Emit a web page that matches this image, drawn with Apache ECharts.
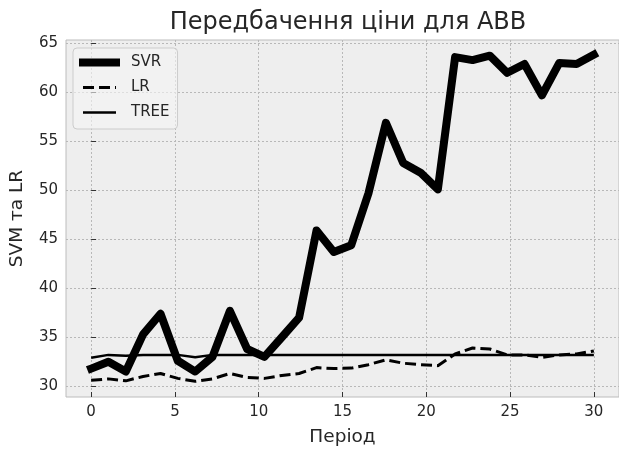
<!DOCTYPE html>
<html>
<head>
<meta charset="utf-8">
<script src="https://cdn.jsdelivr.net/npm/echarts@6/dist/echarts.min.js"></script>
<style>
  html, body { margin: 0; padding: 0; background: #ffffff; }
  #chart { width: 619px; height: 452px; }
</style>
</head>
<body>
<div id="chart"></div>
<script>
// period positions (30 points spread over 0..30)
var periods = [0, 1.03, 2.07, 3.10, 4.14, 5.17, 6.21, 7.24, 8.28, 9.31,
  10.34, 11.38, 12.41, 13.45, 14.48, 15.52, 16.55, 17.59, 18.62, 19.66,
  20.69, 21.72, 22.76, 23.79, 24.83, 25.86, 26.90, 27.93, 28.97, 30]

var svr = [31.8, 32.5, 31.5, 35.3, 37.4, 32.6, 31.5, 33.0, 37.7, 33.8,
  33.0, 35.0, 37.0, 45.9, 43.7, 44.4, 49.7, 56.9, 52.8, 51.8,
  50.1, 63.6, 63.3, 63.75, 62.0, 62.9, 59.7, 63.0, 62.9, 63.85]

var lr = [30.6, 30.75, 30.55, 31.0, 31.3, 30.8, 30.5, 30.75, 31.3, 30.9,
  30.8, 31.1, 31.3, 31.9, 31.8, 31.85, 32.2, 32.7, 32.35, 32.2,
  32.1, 33.3, 33.9, 33.8, 33.2, 33.2, 32.95, 33.2, 33.3, 33.6]

var tree = [32.9, 33.2, 33.1, 33.2, 33.2, 33.2, 32.95, 33.2, 33.2, 33.2,
  33.2, 33.2, 33.2, 33.2, 33.2, 33.2, 33.2, 33.2, 33.2, 33.2,
  33.2, 33.2, 33.2, 33.2, 33.2, 33.2, 33.2, 33.2, 33.2, 33.2]

var xTicks = [0, 5, 10, 15, 20, 25, 30]
var yTicks = [30, 35, 40, 45, 50, 55, 60, 65]

function pairs (ys) {
  return ys.map(function (v, i) { return [periods[i], v] })
}

var font = 'DejaVu Sans'
var ink = '#262626'

var myChart = echarts.init(document.getElementById('chart'))

var chartOption = {
  animation: false,
  title: {
    text: 'Передбачення ціни для ABB',
    left: 343,
    top: 6,
    textAlign: 'center',
    textStyle: { fontFamily: font, fontSize: 24, fontWeight: 'normal', color: ink }
  },
  grid: {
    left: 66,
    right: -2,
    top: 40,
    bottom: 52,
    show: true,
    backgroundColor: '#eeeeee',
    borderColor: '#bcbcbc',
    borderWidth: 1
  },
  legend: {
    orient: 'vertical',
    left: 73,
    top: 48,
    padding: [7, 8, 9, 6],
    itemWidth: 33,
    itemHeight: 14,
    itemGap: 10,
    backgroundColor: 'rgba(245,245,245,0.6)',
    borderColor: '#cccccc',
    borderWidth: 1,
    borderRadius: 4,
    itemStyle: { opacity: 0 },
    lineStyle: { width: 'inherit' },
    textStyle: { fontFamily: font, fontSize: 15, color: ink, padding: [0, 0, 0, 10] },
    data: ['SVR', 'LR', 'TREE']
  },
  xAxis: {
    type: 'value',
    min: -1.5,
    max: 31.5,
    name: 'Період',
    nameLocation: 'middle',
    nameGap: 31,
    nameTextStyle: { fontFamily: font, fontSize: 18.5, color: ink },
    axisLine: { show: false },
    axisTick: { show: true, inside: true, length: 5, customValues: xTicks, lineStyle: { color: '#333333' } },
    axisLabel: { customValues: xTicks, margin: 8, fontFamily: font, fontSize: 15, color: ink },
    splitLine: { show: true, lineStyle: { color: '#b8b8b8', type: [2, 2], width: 1 } }
  },
  yAxis: {
    type: 'value',
    min: 28.9,
    max: 65.35,
    name: 'SVM та LR',
    nameLocation: 'middle',
    nameGap: 39,
    nameTextStyle: { fontFamily: font, fontSize: 18.5, color: ink },
    axisLine: { show: false },
    axisTick: { show: true, inside: true, length: 5, customValues: yTicks, lineStyle: { color: '#333333' } },
    axisLabel: { customValues: yTicks, margin: 8, fontFamily: font, fontSize: 15, color: ink },
    splitLine: { show: true, lineStyle: { color: '#b8b8b8', type: [2, 2], width: 1 } }
  },
  series: [
    {
      name: 'SVR',
      type: 'line',
      symbol: 'none',
      data: pairs(svr),
      lineStyle: { color: '#000000', width: 8, cap: 'square', join: 'round' },
      itemStyle: { color: '#000000' }
    },
    {
      name: 'LR',
      type: 'line',
      symbol: 'none',
      data: pairs(lr),
      lineStyle: { color: '#000000', width: 3, type: [11, 5] },
      itemStyle: { color: '#000000' }
    },
    {
      name: 'TREE',
      type: 'line',
      symbol: 'none',
      data: pairs(tree),
      lineStyle: { color: '#000000', width: 2.5 },
      itemStyle: { color: '#000000' }
    }
  ]
}

myChart.setOption(chartOption)
</script>
</body>
</html>
